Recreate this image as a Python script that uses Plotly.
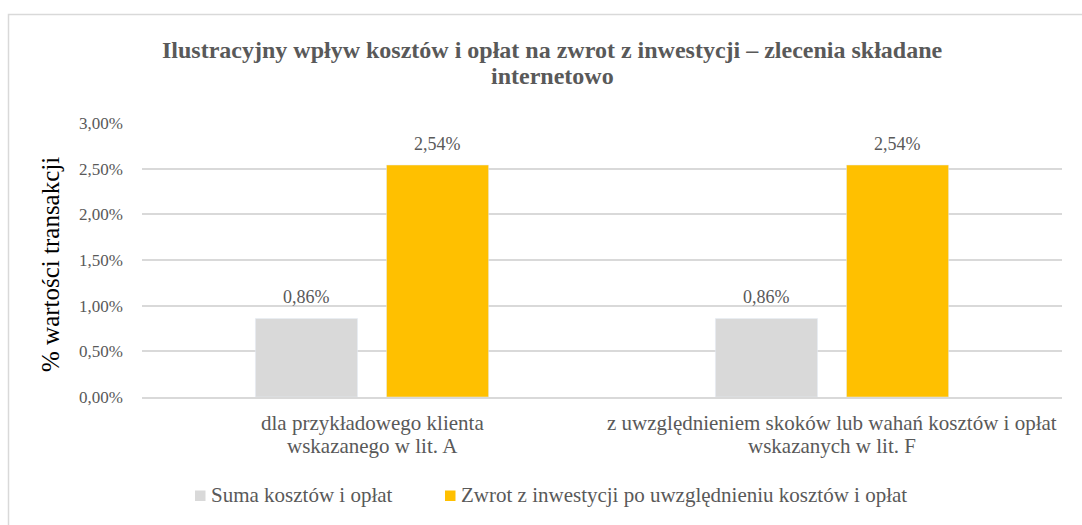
import plotly.graph_objects as go

categories = [
    "dla przykładowego klienta<br>wskazanego w lit. A",
    "z uwzględnieniem skoków lub wahań kosztów i opłat<br>wskazanych w lit. F",
]
costs = [0.0086, 0.0086]
returns = [0.0254, 0.0254]
series_names = ["Suma kosztów i opłat", "Zwrot z inwestycji po uwzględnieniu kosztów i opłat"]
tick_values = [0, 0.005, 0.01, 0.015, 0.02, 0.025, 0.03]
tick_labels = ["0,00%", "0,50%", "1,00%", "1,50%", "2,00%", "2,50%", "3,00%"]
title_lines = [
    "Ilustracyjny wpływ kosztów i opłat na zwrot z inwestycji – zlecenia składane",
    "internetowo",
]
y_title = "% wartości transakcji"

FONT = "Liberation Serif"
TXT = "#595959"
GRAY = "#D9D9D9"
GOLD = "#FFC000"
SERIES_COLORS = [GRAY, GOLD]

L, R, T, B = 142, 20, 123, 128
W, H = 1082, 525
PW, PH = W - L - R, H - T - B


def px_x(px):
    return (px - L) / PW


def px_y(py):
    return (H - B - py) / PH


def pct(v):
    return f"{v * 100:.2f}%".replace(".", ",")


fig = go.Figure()
fig.add_trace(go.Bar(x=categories, y=costs, name=series_names[0], marker_color=SERIES_COLORS[0]))
fig.add_trace(go.Bar(x=categories, y=returns, name=series_names[1], marker_color=SERIES_COLORS[1]))

annotations = []
shapes = []

# value labels above bars
for series, off in [(costs, -0.142), (returns, 0.142)]:
    for j, v in enumerate(series):
        annotations.append(dict(
            x=j + off, y=v, xref="x", yref="y", text=pct(v), showarrow=False,
            yshift=21, font=dict(family=FONT, size=18, color=TXT),
        ))

# category labels, one annotation per line for tighter leading
for j, cat in enumerate(categories):
    for k, line in enumerate(cat.split("<br>")):
        annotations.append(dict(
            x=j, y=0, xref="x", yref="y", text=line, showarrow=False,
            yshift=-26 - 23 * k, font=dict(family=FONT, size=21, color=TXT),
        ))

# chart title
for k, line in enumerate(title_lines):
    annotations.append(dict(
        x=px_x(552), y=px_y(50 + 26 * k), xref="paper", yref="paper",
        xanchor="center", yanchor="middle", showarrow=False,
        text=f"<b>{line}</b>", font=dict(family=FONT, size=24, color=TXT),
    ))

# y-axis title
annotations.append(dict(
    x=px_x(50), y=px_y(265), xref="paper", yref="paper",
    xanchor="center", yanchor="middle", showarrow=False,
    text=y_title, textangle=-90,
    font=dict(family=FONT, size=25, color="#000000"),
))

# legend: small square swatch followed by the series name
legend_x = [195, 445]
for name, color, lx in zip(series_names, SERIES_COLORS, legend_x):
    shapes.append(dict(
        type="rect", xref="paper", yref="paper",
        x0=px_x(lx), x1=px_x(lx + 10.5), y0=px_y(501), y1=px_y(490.5),
        line=dict(width=0), fillcolor=color,
    ))
    annotations.append(dict(
        x=px_x(lx + 14), y=px_y(495), xref="paper", yref="paper",
        xanchor="left", yanchor="middle", showarrow=False,
        text=name, font=dict(family=FONT, size=21, color=TXT),
    ))

# outer chart border
shapes.append(dict(
    type="rect", xref="paper", yref="paper",
    x0=px_x(8.5), x1=1.05, y0=-0.6, y1=px_y(14.5),
    line=dict(color="#D9D9D9", width=1.5), fillcolor="rgba(0,0,0,0)", layer="below",
))

fig.update_layout(
    width=W, height=H,
    margin=dict(l=L, r=R, t=T, b=B),
    paper_bgcolor="white", plot_bgcolor="white",
    barmode="group", bargap=0.43, bargroupgap=0.221,
    font=dict(family=FONT, color=TXT),
    showlegend=False,
    annotations=annotations,
    shapes=shapes,
)
fig.update_xaxes(
    type="category", showgrid=False, showline=True, linecolor=GRAY, linewidth=1.5,
    ticks="", showticklabels=False,
)
fig.update_yaxes(
    range=[0, 0.03], tickvals=tick_values, ticktext=tick_labels,
    showgrid=True, gridcolor=GRAY, gridwidth=1.5, zeroline=False,
    tickfont=dict(family=FONT, size=17, color=TXT), ticklabelstandoff=18,
)

fig.write_html("out.html")
